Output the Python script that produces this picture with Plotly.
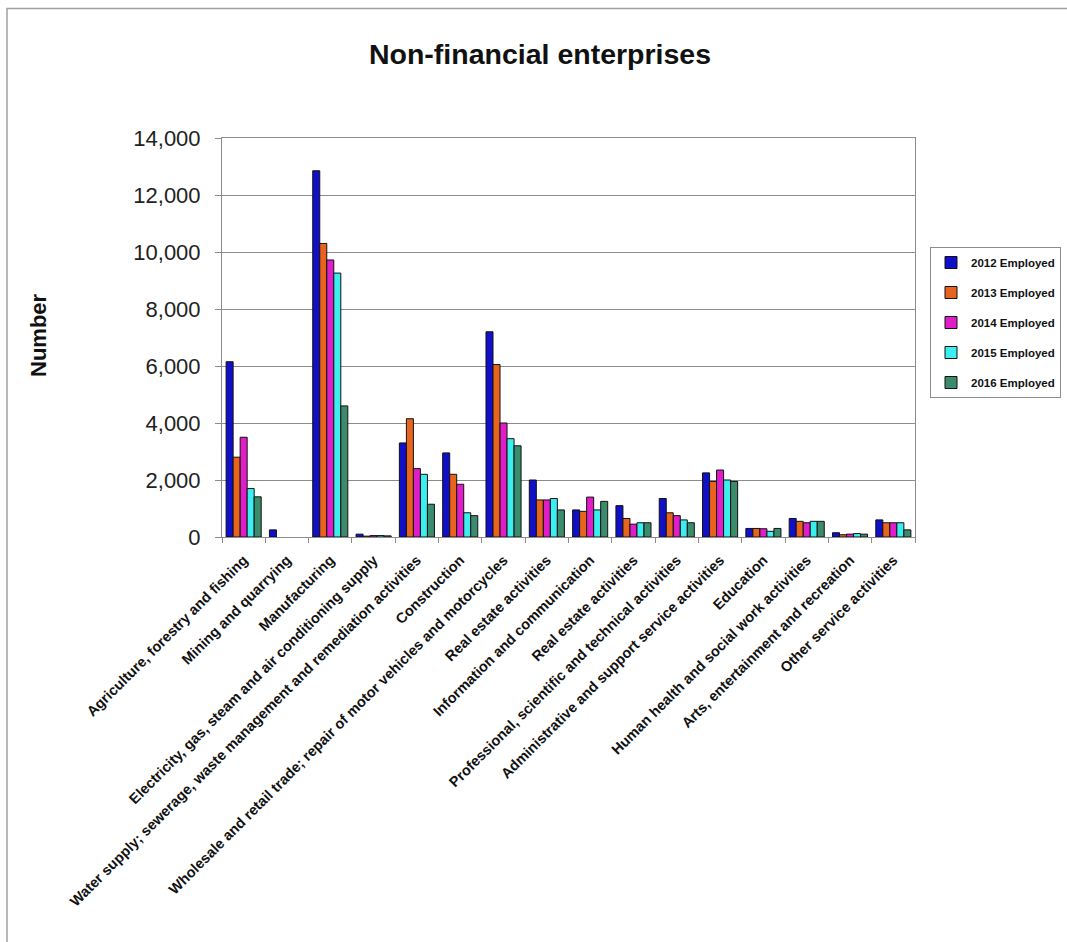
import plotly.graph_objects as go

categories = [
    "Agriculture, forestry and fishing",
    "Mining and quarrying",
    "Manufacturing",
    "Electricity, gas, steam and air conditioning supply",
    "Water supply; sewerage, waste management and remediation activities",
    "Construction",
    "Wholesale and retail trade; repair of motor vehicles and motorcycles",
    "Real estate activities",
    "Information and communication",
    "Real estate activities",
    "Professional, scientific and technical activities",
    "Administrative and support service activities",
    "Education",
    "Human health and social work activities",
    "Arts, entertainment and recreation",
    "Other service activities",
]

series_names = ["2012 Employed", "2013 Employed", "2014 Employed", "2015 Employed", "2016 Employed"]

emp_2012 = [6150, 250, 12850, 100, 3300, 2950, 7200, 2000, 950, 1100, 1350, 2250, 300, 650, 150, 600]
emp_2013 = [2800, None, 10300, 30, 4150, 2200, 6050, 1300, 900, 650, 850, 1950, 300, 550, 80, 500]
emp_2014 = [3500, None, 9720, 50, 2400, 1850, 4000, 1300, 1400, 450, 750, 2350, 290, 500, 100, 500]
emp_2015 = [1700, None, 9260, 50, 2200, 850, 3450, 1350, 950, 500, 600, 2000, 200, 550, 120, 500]
emp_2016 = [1410, None, 4600, 40, 1150, 750, 3200, 950, 1250, 500, 500, 1950, 300, 550, 100, 250]

series_values = [emp_2012, emp_2013, emp_2014, emp_2015, emp_2016]
colors = ["#1010C8", "#E8641E", "#E01EC8", "#3CEEEE", "#3A8C6C"]

y_ticks = [0, 2000, 4000, 6000, 8000, 10000, 12000, 14000]

W, H = 1067, 942
L, R, T, B = 222, 915, 138, 537  # plot area pixel box

x_pos = list(range(len(categories)))

fig = go.Figure()
for i, (name, vals, col) in enumerate(zip(series_names, series_values, colors)):
    fig.add_trace(go.Bar(
        x=x_pos, y=vals, name="<b>%s</b>" % name, legendgroup=name,
        marker=dict(color=col, line=dict(color="#111111", width=1)),
    ))

def px_x(px):
    return (px - L) / (R - L)

def px_y(py):
    return (B - py) / (B - T)

fig.update_layout(
    width=W, height=H,
    margin=dict(l=L, r=W - R, t=T, b=H - B, autoexpand=False),
    paper_bgcolor="white", plot_bgcolor="white",
    barmode="group", bargap=0.19, bargroupgap=0,
    font=dict(family="Liberation Sans, Arial, sans-serif", color="#111111"),
    title=dict(text="<b>Non-financial enterprises</b>", x=540 / W, xref="container", xanchor="center",
               y=1 - 54 / H, yref="container", yanchor="middle",
               font=dict(size=28.5, color="#111111")),
    showlegend=True,
    legend=dict(x=px_x(930), y=px_y(247), xanchor="left", yanchor="top",
                bgcolor="white", bordercolor="#8c8c8c", borderwidth=1,
                font=dict(size=11.5, color="#111111"), traceorder="grouped",
                tracegroupgap=11, itemwidth=30),
    xaxis=dict(
        range=[-0.5, len(categories) - 0.5],
        tickvals=x_pos, ticktext=["<b>%s</b>" % c for c in categories],
        tickangle=-45, ticks="", tickfont=dict(size=14.5, color="#111111"),
        ticklabelstandoff=8,
        showline=True, linecolor="#8c8c8c", linewidth=1, mirror=True,
        showgrid=False, zeroline=False,
        minor=dict(tickvals=[k - 0.5 for k in range(len(categories) + 1)], ticks="outside",
                   ticklen=5, tickcolor="#8c8c8c", showgrid=False),
    ),
    yaxis=dict(
        range=[0, 14000], tickvals=y_ticks, tickformat=",",
        ticks="outside", ticklen=6, tickcolor="#8c8c8c",
        tickfont=dict(size=22, color="#222222"), ticklabelstandoff=10,
        showline=True, linecolor="#8c8c8c", linewidth=1, mirror=True,
        showgrid=True, gridcolor="#8c8c8c", gridwidth=1, zeroline=False,
    ),
    annotations=[
        dict(text="<b>Number</b>", x=px_x(38), y=px_y(335), xref="paper", yref="paper",
             textangle=-90, showarrow=False, font=dict(size=22, color="#111111"),
             xanchor="center", yanchor="middle"),
    ],
    shapes=[
        dict(type="rect", xref="paper", yref="paper",
             x0=px_x(7), x1=px_x(1090), y0=px_y(960), y1=px_y(8.5),
             line=dict(color="#a0a0a0", width=1.5), fillcolor="rgba(0,0,0,0)", layer="below"),
    ],
)

fig.write_html("out.html")
